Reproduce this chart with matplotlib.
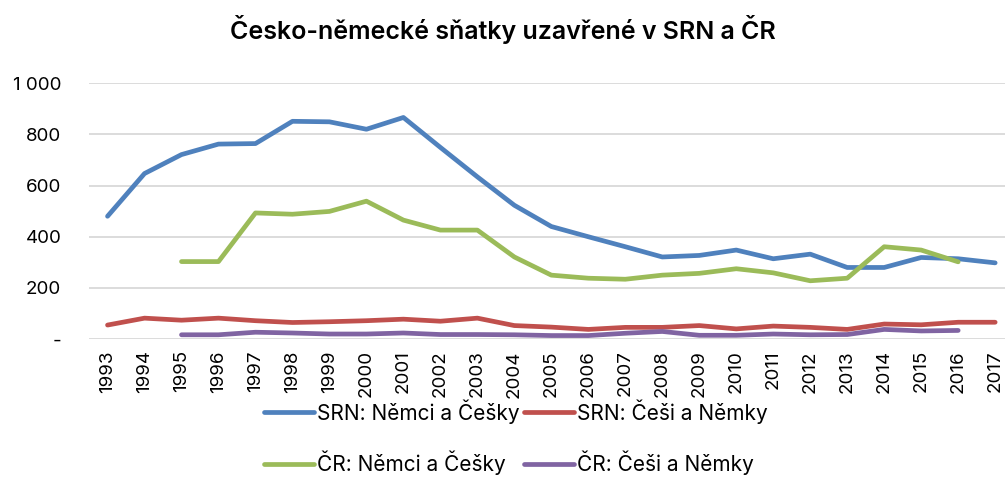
import numpy as np
import matplotlib
matplotlib.use("Agg")
import matplotlib.pyplot as plt
from matplotlib.ticker import FuncFormatter

plt.rcParams['font.family'] = ['Inter', 'DejaVu Sans']

years = list(range(1993, 2018))

# SRN: Němci a Češky
srn_nemci = [480, 647, 721, 762, 764, 851, 849, 820, 866, 749, 634, 523, 440,
             400, 361, 321, 327, 348, 314, 332, 280, 280, 319, 314, 298]
# SRN: Češi a Němky
srn_cesi = [55, 82, 74, 82, 72, 65, 68, 72, 78, 70, 82, 53, 47,
            38, 46, 46, 53, 40, 51, 46, 38, 59, 56, 66, 66]
# ČR: Němci a Češky (1995-2016)
cr_nemci = [None, None, 303, 303, 493, 488, 499, 539, 465, 426, 426, 321, 250,
            238, 234, 250, 257, 275, 259, 228, 238, 361, 348, 302, None]
# ČR: Češi a Němky (1995-2016)
cr_cesi = [None, None, 17, 17, 27, 24, 20, 20, 24, 18, 18, 17, 14,
           14, 23, 30, 15, 15, 20, 17, 18, 38, 32, 34, None]

series = [
    ("SRN: Němci a Češky", srn_nemci, "#4f81bd"),
    ("SRN: Češi a Němky", srn_cesi, "#c0504d"),
    ("ČR: Němci a Češky", cr_nemci, "#9bbb59"),
    ("ČR: Češi a Němky", cr_cesi, "#8064a2"),
]

fig = plt.figure(figsize=(10.05, 4.98), dpi=100)
# osa přesahuje vpravo za okraj obrázku (jako v originále)
ax = fig.add_axes([0.0886, 0.319, 0.92, 0.514])

x = np.arange(len(years))
lines = []
for label, vals, color in series:
    y = np.array([np.nan if v is None else v for v in vals], dtype=float)
    ln, = ax.plot(x, y, color=color, lw=3.4, solid_capstyle='round',
                  solid_joinstyle='round', label=label)
    lines.append(ln)

ax.set_xlim(-0.5, len(years) - 0.5)
ax.set_ylim(0, 1000)
ax.set_yticks(range(0, 1001, 200))
ax.yaxis.set_major_formatter(FuncFormatter(
    lambda v, p: '-' if v == 0 else f"{int(v):,}".replace(',', ' ')))
ax.set_xticks(x)
ax.set_xticklabels([str(y) for y in years], rotation=90)
ax.tick_params(length=0, labelsize=13.5, colors='black')
ax.tick_params(axis='y', pad=20)
ax.tick_params(axis='x', pad=8)
ax.grid(axis='y', color='#d9d9d9', lw=1.3)
ax.set_axisbelow(True)
for s in ax.spines.values():
    s.set_visible(False)

fig.text(0.5, 0.94, "Česko-německé sňatky uzavřené v SRN a ČR",
         ha='center', va='center', fontsize=18, fontweight='semibold')

# pořadí tak, aby řádky byly SRN / ČR
order = [lines[0], lines[2], lines[1], lines[3]]
fig.legend(order, [l.get_label() for l in order], loc='center',
           bbox_to_anchor=(0.513, 0.122), ncol=2, frameon=False,
           fontsize=15, handlelength=2.4, handletextpad=0.15,
           columnspacing=0.2, labelspacing=1.3)

fig.savefig('out.png', dpi=100)
